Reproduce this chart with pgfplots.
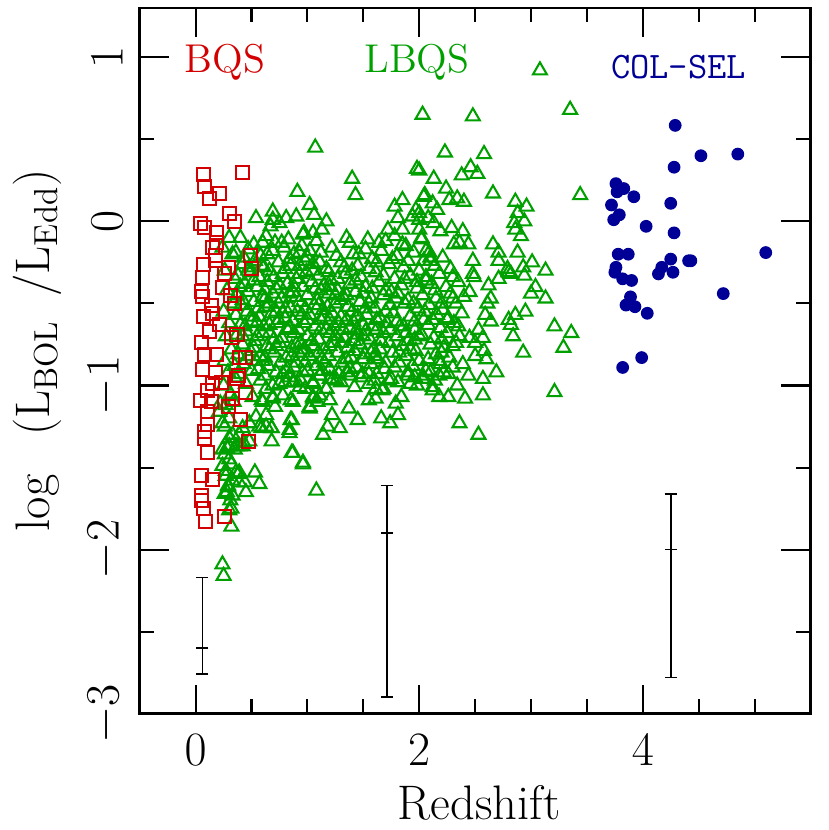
\documentclass[border=0pt]{standalone}
\usepackage{pgfplots}
\pgfplotsset{compat=1.18}
\definecolor{bqsred}{RGB}{210,0,0}
\definecolor{lbqsgreen}{RGB}{0,160,0}
\definecolor{colblue}{RGB}{0,0,150}
\begin{document}
\begin{tikzpicture}
\begin{axis}[
  name=ax,
  scale only axis, width=241.9pt, height=254.5pt,
  xmin=-0.5, xmax=5.5, ymin=-3, ymax=1.3,
  xtick={0,2,4}, ytick={-3,-2,-1,0,1},
  minor xtick={0.5,1,1.5,2.5,3,3.5,4.5,5},
  minor ytick={-2.5,-1.5,-0.5,0.5},
  tick align=inside,
  major tick length=10.5pt, minor tick length=5.2pt,
  tick style={black, line width=0.75pt},
  axis line style={line width=0.9pt},
  every tick label/.append style={font=\fontsize{17}{19}\selectfont},
  xticklabel shift=4pt,
  yticklabel style={rotate=90, anchor=south},
  yticklabel shift=2.6pt,
  xlabel={Redshift},
  xlabel style={font=\fontsize{17.5}{20}\selectfont, at={(axis description cs:0.506,-0.127)}, anchor=center},
  ylabel={log\hspace{0.8em}(L$_{\mathrm{BOL}}$\hspace{0.5em}/L$_{\mathrm{Edd}}$)},
  ylabel style={font=\fontsize{17.5}{20}\selectfont, at={(axis description cs:-0.152,0.515)}, anchor=center, rotate=0},
]
% LBQS
\addplot[only marks, mark=triangle, mark size=2.9pt, lbqsgreen, mark options={line width=0.75pt}] coordinates {
(0.40,-0.10) (0.52,-0.14) (0.63,-0.09) (0.71,-0.13) (0.83,-0.11) (0.95,-0.15) (1.08,-0.12) (1.22,-0.16) (1.38,-0.13) (1.52,-0.17) (1.70,-0.12) (1.88,-0.15) (2.02,-0.11)
(0.36,-0.19) (0.47,-0.17) (0.58,-0.21) (0.69,-0.18) (0.79,-0.16) (0.88,-0.20) (1.00,-0.22) (1.12,-0.19) (1.26,-0.21) (1.41,-0.20) (1.58,-0.23) (1.66,-0.18) (1.80,-0.21) (1.95,-0.19) (2.10,-0.24) (2.21,-0.22)
(0.42,-0.26) (0.53,-0.24) (0.61,-0.28) (0.74,-0.25) (0.84,-0.23) (0.93,-0.27) (1.05,-0.26) (1.17,-0.29) (1.30,-0.25) (1.45,-0.27) (1.55,-0.29) (1.73,-0.26) (1.86,-0.28) (2.00,-0.30) (2.14,-0.27)
(0.38,-0.33) (0.49,-0.31) (0.57,-0.34) (0.66,-0.30) (0.78,-0.32) (0.90,-0.35) (0.99,-0.31) (1.10,-0.33) (1.21,-0.36) (1.34,-0.32) (1.48,-0.34) (1.61,-0.31) (1.78,-0.35) (1.92,-0.33) (2.06,-0.36) (2.18,-0.32) (2.30,-0.34)
(0.44,-0.38) (0.55,-0.40) (0.64,-0.37) (0.72,-0.41) (0.82,-0.38) (0.96,-0.40) (1.04,-0.37) (1.15,-0.39) (1.27,-0.42) (1.38,-0.38) (1.52,-0.40) (1.64,-0.37) (1.70,-0.42) (1.84,-0.39) (1.98,-0.41) (2.11,-0.38) (2.24,-0.40) (2.35,-0.37)
(0.37,-0.45) (0.47,-0.43) (0.60,-0.46) (0.69,-0.44) (0.77,-0.47) (0.87,-0.43) (1.00,-0.45) (1.09,-0.48) (1.19,-0.44) (1.32,-0.46) (1.43,-0.43) (1.57,-0.47) (1.68,-0.45) (1.81,-0.44) (1.90,-0.48) (2.03,-0.45) (2.15,-0.47) (2.28,-0.44) (2.40,-0.46)
(0.41,-0.51) (0.52,-0.49) (0.63,-0.52) (0.74,-0.50) (0.85,-0.53) (0.93,-0.49) (1.06,-0.51) (1.14,-0.54) (1.25,-0.50) (1.36,-0.52) (1.47,-0.49) (1.60,-0.53) (1.74,-0.51) (1.87,-0.50) (1.99,-0.53) (2.09,-0.51) (2.21,-0.54) (2.33,-0.50)
(0.36,-0.57) (0.46,-0.55) (0.57,-0.58) (0.68,-0.56) (0.80,-0.59) (0.91,-0.55) (1.02,-0.57) (1.12,-0.60) (1.22,-0.56) (1.30,-0.58) (1.41,-0.61) (1.53,-0.57) (1.65,-0.59) (1.77,-0.56) (1.92,-0.58) (2.04,-0.60) (2.16,-0.57) (2.26,-0.59) (2.38,-0.56)
(0.40,-0.63) (0.50,-0.61) (0.61,-0.64) (0.73,-0.62) (0.84,-0.65) (0.97,-0.62) (1.07,-0.64) (1.17,-0.66) (1.28,-0.62) (1.38,-0.65) (1.50,-0.63) (1.62,-0.66) (1.71,-0.62) (1.83,-0.64) (1.96,-0.66) (2.08,-0.63) (2.19,-0.65) (2.31,-0.62)
(0.37,-0.69) (0.45,-0.67) (0.55,-0.70) (0.66,-0.68) (0.77,-0.71) (0.88,-0.68) (1.00,-0.70) (1.10,-0.72) (1.20,-0.68) (1.33,-0.71) (1.44,-0.69) (1.56,-0.72) (1.68,-0.68) (1.80,-0.70) (1.90,-0.73) (2.02,-0.69) (2.13,-0.71) (2.25,-0.68) (2.36,-0.70)
(0.42,-0.75) (0.53,-0.73) (0.64,-0.76) (0.75,-0.74) (0.86,-0.77) (0.94,-0.74) (1.05,-0.76) (1.15,-0.78) (1.24,-0.74) (1.36,-0.77) (1.47,-0.75) (1.59,-0.78) (1.73,-0.74) (1.85,-0.76) (1.97,-0.79) (2.10,-0.75) (2.22,-0.77) (2.33,-0.74)
(0.38,-0.81) (0.49,-0.79) (0.58,-0.82) (0.70,-0.80) (0.81,-0.83) (0.92,-0.80) (1.02,-0.82) (1.13,-0.84) (1.27,-0.80) (1.39,-0.83) (1.51,-0.81) (1.63,-0.84) (1.76,-0.80) (1.88,-0.82) (2.00,-0.85) (2.15,-0.81) (2.27,-0.83)
(0.43,-0.87) (0.54,-0.85) (0.65,-0.88) (0.76,-0.86) (0.88,-0.89) (0.98,-0.86) (1.08,-0.88) (1.20,-0.90) (1.31,-0.86) (1.44,-0.89) (1.57,-0.87) (1.69,-0.90) (1.82,-0.86) (1.94,-0.88) (2.06,-0.91) (2.19,-0.87) (2.30,-0.89)
(0.39,-0.93) (0.50,-0.91) (0.62,-0.94) (0.72,-0.92) (0.84,-0.95) (0.96,-0.92) (1.11,-0.94) (1.23,-0.96) (1.35,-0.92) (1.48,-0.95) (1.62,-0.93) (1.75,-0.96) (1.90,-0.92) (2.03,-0.94) (2.14,-0.97) (2.26,-0.93)
(0.45,-0.99) (0.58,-0.97) (0.69,-1.00) (0.80,-0.98) (0.93,-1.01) (1.05,-0.99) (1.17,-1.02) (1.30,-0.98) (1.42,-1.01) (1.55,-0.99) (1.68,-1.02) (1.81,-0.98) (1.98,-1.00) (2.12,-1.03)
(0.48,-0.28) (0.70,-0.34) (0.88,-0.40) (1.12,-0.42) (1.35,-0.45) (1.55,-0.50) (0.62,-0.47) (0.80,-0.53) (1.00,-0.60) (1.24,-0.64) (1.44,-0.66) (0.55,-0.62) (0.70,-0.72) (0.90,-0.75) (1.10,-0.80) (1.30,-0.74) (1.50,-0.84) (1.65,-0.78) (0.60,-0.85) (0.82,-0.90) (1.15,-0.86) (1.38,-0.90) (0.95,-0.57) (1.18,-0.52) (1.40,-0.55) (1.62,-0.60) (1.86,-0.64) (0.74,-0.60) (1.27,-0.35) (1.05,-0.30) (2.00,-0.70) (2.20,-0.80) (1.95,-0.50) (2.25,-0.60)
(0.43,-0.22) (0.64,-0.20) (0.85,-0.27) (1.11,-0.25) (1.33,-0.28) (1.62,-0.25) (1.90,-0.24)
(0.52,-0.36) (0.75,-0.39) (0.93,-0.32) (1.20,-0.40) (1.43,-0.36) (1.58,-0.41) (1.87,-0.35) (2.14,-0.42)
(0.42,-0.48) (0.66,-0.50) (0.90,-0.46) (1.10,-0.51) (1.30,-0.48) (1.52,-0.53) (1.79,-0.47) (2.05,-0.55) (2.30,-0.47)
(0.50,-0.58) (0.72,-0.55) (0.87,-0.61) (1.15,-0.58) (1.35,-0.60) (1.58,-0.64) (1.80,-0.61) (2.12,-0.60)
(0.42,-0.70) (0.60,-0.68) (0.82,-0.66) (1.04,-0.73) (1.25,-0.70) (1.50,-0.70) (1.74,-0.66) (1.96,-0.72) (2.20,-0.72)
(0.47,-0.82) (0.66,-0.78) (0.86,-0.82) (0.97,-0.78) (1.19,-0.82) (1.42,-0.79) (1.60,-0.82) (1.82,-0.80) (2.08,-0.84)
(0.35,-0.88) (0.56,-0.90) (0.78,-0.93) (1.00,-0.91) (1.28,-0.93) (1.55,-0.93) (1.70,-0.86) (1.96,-0.95) (2.22,-0.92)
(0.47,-0.30) (0.59,-0.27) (0.80,-0.29) (0.98,-0.24) (1.19,-0.31) (1.40,-0.30) (1.68,-0.33) (1.98,-0.37)
(0.40,-0.40) (0.62,-0.42) (0.84,-0.44) (1.07,-0.41) (1.25,-0.45) (1.50,-0.44) (1.75,-0.43) (2.20,-0.50)
(0.56,-0.53) (0.78,-0.56) (0.98,-0.53) (1.20,-0.60) (1.45,-0.58) (1.70,-0.55) (1.96,-0.61) (2.35,-0.64)
(0.44,-0.64) (0.66,-0.63) (0.92,-0.66) (1.12,-0.66) (1.32,-0.66) (1.52,-0.67) (1.88,-0.68) (2.30,-0.76)
(0.52,-0.77) (0.72,-0.76) (0.96,-0.80) (1.20,-0.76) (1.42,-0.73) (1.66,-0.73) (1.92,-0.78) (2.18,-0.85)
(0.62,-0.83) (0.90,-0.86) (1.13,-0.91) (1.35,-0.84) (1.57,-0.80) (1.78,-0.89) (2.10,-0.92)
(0.54,0.02) (0.69,0.06) (0.69,0.01) (0.81,0.02) (0.90,0.03) (1.06,0.04) (0.75,-0.01) (0.67,-0.03) (1.17,0.00) (0.97,-0.07) (1.05,-0.07) (1.13,-0.05) (1.35,-0.10) (1.54,-0.11) (1.64,-0.13) (1.78,-0.09) (0.60,-0.13) (0.77,-0.13) (0.93,-0.19) (1.02,-0.18) (1.85,-0.14) (1.46,-0.20) (1.76,-0.23) (2.04,-0.24) (0.24,-0.16) (0.96,-0.08)
(1.07,0.45) (1.40,0.26) (1.43,0.16) (1.98,0.32) (0.91,0.18) (1.85,0.13) (1.78,0.09) (2.04,0.15) (1.02,0.10) (1.81,0.02) (1.94,0.03) (2.00,0.01) (1.72,-0.05) (1.85,-0.05) (2.00,-0.05) (1.97,0.07)
(3.08,0.92) (3.35,0.68) (2.03,0.65) (2.48,0.64) (2.23,0.42) (2.58,0.41) (2.00,0.31) (2.13,0.26) (2.38,0.28) (2.46,0.33) (2.52,0.29) (2.66,0.17) (3.44,0.16) (2.24,0.20) (2.05,0.16) (2.12,0.11) (2.27,0.13) (2.34,0.14) (2.40,0.12) (2.86,0.12) (2.96,0.09) (2.16,0.07) (2.00,0.05) (2.13,-0.01) (2.29,-0.04) (2.39,-0.06) (2.19,-0.06) (2.88,0.05) (2.94,0.00) (2.85,-0.01) (2.86,-0.05) (2.91,-0.09) (2.31,-0.14) (2.36,-0.13) (2.44,-0.14) (2.66,-0.14) (2.09,-0.19) (2.10,-0.22) (2.71,-0.19) (2.71,-0.24) (2.88,-0.19) (2.48,-0.24) (3.01,-0.25) (2.28,-0.29) (2.48,-0.32) (2.79,-0.29) (2.80,-0.31) (2.93,-0.28) (3.13,-0.30) (2.06,-0.34) (2.02,-0.10) (2.06,-0.18) (2.08,0.02)
(2.94,-0.33) (2.82,-0.32) (2.71,-0.35) (2.49,-0.34) (3.04,-0.40) (3.00,-0.44) (3.13,-0.47) (2.62,-0.39) (2.45,-0.43) (2.64,-0.47) (2.61,-0.50) (2.95,-0.55) (2.86,-0.57) (2.80,-0.60) (2.82,-0.63) (2.59,-0.57) (2.64,-0.61) (2.84,-0.70) (3.21,-0.64) (3.36,-0.68) (3.29,-0.77) (2.93,-0.80) (2.53,-0.66) (2.45,-0.71) (2.57,-0.71) (2.50,-0.74) (2.58,-0.79) (2.60,-0.84) (2.50,-0.82) (2.39,-0.87) (2.69,-0.92) (2.57,-0.96) (2.44,-0.94) (2.34,-1.00) (2.57,-1.06) (2.41,-1.08) (2.26,-1.07) (2.18,-1.07) (2.12,-1.01) (2.04,-0.96) (2.18,-0.94) (3.21,-1.04) (2.36,-1.23) (2.53,-1.30)
(0.85,-1.09) (1.02,-1.14) (1.09,-1.10) (1.20,-1.09) (1.37,-1.14) (1.45,-1.21) (1.22,-1.18) (1.18,-1.25) (1.29,-1.26) (1.14,-1.30) (0.85,-1.21) (0.84,-1.27) (0.84,-1.29) (0.68,-1.26) (0.68,-1.34) (0.86,-1.41) (0.96,-1.47) (0.53,-1.53) (0.57,-1.60) (0.44,-1.59) (0.39,-1.53) (1.08,-1.64) (0.32,-1.75) (1.66,-1.20) (1.74,-1.23) (1.81,-1.18) (1.84,-1.07) (1.79,-1.11) (1.61,-1.08) (1.55,-1.09) (1.67,-1.03) (1.61,-1.02) (1.73,-0.97) (1.60,-0.97) (1.90,-0.94) (2.03,-0.96) (1.92,-0.99) (1.11,-0.94) (1.20,-0.96) (1.26,-0.97) (1.17,-1.02) (1.11,-1.06) (1.05,-1.08) (1.38,-0.94) (1.49,-0.93) (0.88,-0.98) (0.94,-0.97) (0.60,-1.10) (0.69,-1.08) (0.59,-1.26) (0.63,-1.25) (0.36,-1.37) (0.42,-1.37) (0.36,-1.53) (0.45,-1.65) (0.33,-1.67)
(0.26,-0.30) (0.28,-0.42) (0.25,-0.55) (0.30,-0.62) (0.27,-0.70) (0.32,-0.78) (0.26,-0.85) (0.29,-0.92) (0.25,-1.00) (0.31,-1.05) (0.27,-1.12) (0.30,-1.20) (0.26,-1.25) (0.33,-1.30) (0.28,-1.38) (0.30,-1.45) (0.27,-1.52) (0.33,-1.58) (0.29,-1.62) (0.31,-1.70) (0.26,-1.66) (0.34,-0.50) (0.35,-0.35) (0.33,-0.20) (0.30,-0.10) (0.35,-0.95) (0.34,-1.10) (0.32,-1.48) (0.32,-1.86) (0.30,-1.76)
(0.24,-1.49) (0.27,-1.55) (0.38,-1.54) (0.39,-1.59) (0.29,-1.61) (0.28,-1.65) (0.26,-1.42) (0.30,-1.37) (0.24,-1.39) (0.35,-1.39) (0.39,-1.37) (0.43,-1.35) (0.57,-1.25) (0.68,-1.26) (0.86,-1.21) (0.87,-1.41) (0.96,-1.48) (0.87,-1.10) (1.02,-1.13) (1.05,-1.07) (0.71,-1.13) (0.63,-1.18) (0.54,-1.19) (0.48,-1.23) (0.42,-1.26) (0.48,-1.34) (0.39,-1.30) (0.30,-1.32) (0.24,-1.23) (0.21,-1.16) (0.22,-1.11) (0.51,-1.07) (0.59,-1.09) (0.69,-1.07) (0.78,-1.06) (0.63,-1.02) (0.75,-0.99) (0.87,-0.98) (0.98,-1.02) (1.05,-0.98)
(0.24,-2.09) (0.25,-2.16)
};
% BQS
\addplot[only marks, mark=square, mark size=2.35pt, bqsred, mark options={line width=0.72pt}] coordinates {
(0.07,0.285) (0.42,0.30) (0.08,0.21) (0.21,0.17) (0.12,0.14) (0.30,0.05) (0.35,0.00) (0.04,-0.01) (0.08,-0.04) (0.19,-0.07) (0.19,-0.13) (0.15,-0.16) (0.49,-0.21) (0.18,-0.21) (0.07,-0.26) (0.18,-0.24) (0.50,-0.29) (0.29,-0.28) (0.06,-0.34) (0.26,-0.32) (0.24,-0.40) (0.05,-0.43) (0.06,-0.46) (0.31,-0.45) (0.35,-0.50) (0.14,-0.51) (0.07,-0.58) (0.15,-0.56) (0.21,-0.63) (0.12,-0.67) (0.05,-0.74) (0.32,-0.71) (0.37,-0.69)
(0.08,-0.81) (0.19,-0.81) (0.39,-0.83) (0.45,-0.83) (0.06,-0.90) (0.18,-0.92) (0.38,-0.94) (0.37,-0.96) (0.23,-0.98) (0.15,-0.99) (0.11,-1.03) (0.45,-1.04) (0.04,-1.09) (0.14,-1.10) (0.33,-1.08) (0.29,-1.13) (0.11,-1.16) (0.11,-1.24) (0.40,-1.21) (0.08,-1.28) (0.08,-1.32) (0.47,-1.34) (0.11,-1.41) (0.05,-1.55) (0.15,-1.57) (0.05,-1.67) (0.05,-1.70) (0.07,-1.75) (0.26,-1.80) (0.09,-1.83)
};
% COL-SEL
\addplot[only marks, mark=*, mark size=2.1pt, colblue] coordinates {
(4.29,0.585) (4.52,0.40) (4.85,0.41) (4.28,0.33) (3.76,0.23) (3.83,0.20) (3.77,0.18) (3.92,0.15) (3.72,0.10) (4.25,0.11) (3.79,0.04) (3.74,0.01) (4.03,-0.03) (4.28,-0.07) (3.78,-0.20) (3.87,-0.20) (5.10,-0.19) (4.25,-0.23) (4.41,-0.24) (4.43,-0.24) (3.76,-0.28) (3.75,-0.31) (4.17,-0.28) (4.14,-0.32) (4.27,-0.31) (3.82,-0.35) (3.90,-0.36) (4.72,-0.44) (3.89,-0.46) (3.85,-0.51) (3.93,-0.52) (4.04,-0.56) (3.99,-0.83) (3.82,-0.89)
};
% representative error bars
\addplot[only marks, black, mark=-, mark size=2.2pt, mark options={line width=0.6pt},
  error bars/.cd, y dir=both, y explicit, error bar style={line width=0.6pt},
  error mark=-, error mark options={rotate=90, mark size=2.2pt, line width=0.6pt}] coordinates {
(0.06,-2.60) += (0,0.43) -= (0,0.16)
(1.71,-1.90) += (0,0.29) -= (0,1.00)
(4.25,-2.00) += (0,0.34) -= (0,0.78)
};
\node[text=bqsred, font=\fontsize{14.5}{16}\selectfont] at (axis cs:0.26,0.97) {BQS};
\node[text=lbqsgreen, font=\fontsize{14.5}{16}\selectfont] at (axis cs:1.98,0.97) {LBQS};
\node[text=colblue, font=\fontsize{13.5}{15}\selectfont\ttfamily] at (axis cs:4.32,0.94) {COL-SEL};
\end{axis}
\path (ax.north east) ++(6.5pt,2.9pt);
\path (ax.south west) ++(-50.4pt,-41.4pt);
\end{tikzpicture}
\end{document}
